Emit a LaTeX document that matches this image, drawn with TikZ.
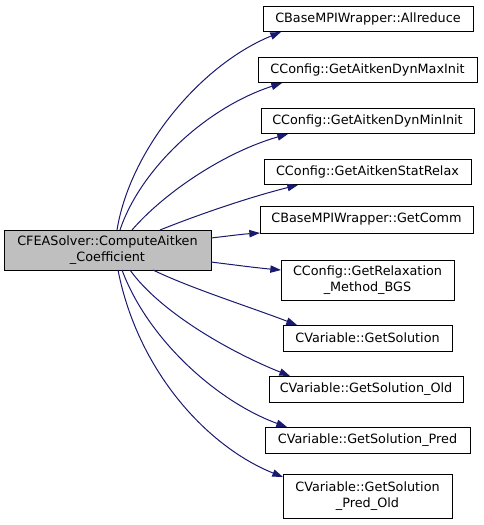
\documentclass[tikz,border=0pt]{standalone}
\usepackage{fontspec}
\setmainfont{DejaVu Sans}
\usetikzlibrary{arrows.meta}
\definecolor{edgeblue}{HTML}{191970}
\definecolor{maingray}{HTML}{BFBFBF}
\begin{document}
\begin{tikzpicture}[x=0.75pt,y=-0.75pt,
  fbox/.style={draw=black,line width=0.75pt,fill=white,inner sep=0pt,align=center,font=\fontsize{9.6pt}{11.6pt}\selectfont},
  edge/.style={draw=edgeblue,line width=0.75pt,-{Triangle[length=8pt,width=5.5pt]}}]
\useasboundingbox (0,0) rectangle (483,525);
\node[fbox,fill=maingray,minimum width=155.25pt,minimum height=30pt] (m) at (107.5,250) {CFEASolver::ComputeAitken\\\_Coefficient};
\node[fbox,minimum width=157.5pt,minimum height=18.75pt] (a) at (368,18.5) {CBaseMPIWrapper::Allreduce};
\node[fbox,minimum width=164.25pt,minimum height=18.75pt] (b) at (367.5,69.5) {CConfig::GetAitkenDynMaxInit};
\node[fbox,minimum width=159.75pt,minimum height=18.75pt] (c) at (367.5,120.5) {CConfig::GetAitkenDynMinInit};
\node[fbox,minimum width=155.25pt,minimum height=18.75pt] (d) at (367.5,171.5) {CConfig::GetAitkenStatRelax};
\node[fbox,minimum width=159.75pt,minimum height=20.25pt] (e) at (366.5,219.5) {CBaseMPIWrapper::GetComm};
\node[fbox,minimum width=129.75pt,minimum height=30pt] (f) at (367.5,280) {CConfig::GetRelaxation\\\_Method\_BGS};
\node[fbox,minimum width=126.75pt,minimum height=19.5pt] (g) at (367.5,338) {CVariable::GetSolution};
\node[fbox,minimum width=145.5pt,minimum height=19.5pt] (h) at (366,389) {CVariable::GetSolution\_Old};
\node[fbox,minimum width=153.75pt,minimum height=19.5pt] (i) at (367.5,440) {CVariable::GetSolution\_Pred};
\node[fbox,minimum width=126.75pt,minimum height=33pt] (j) at (367.5,496) {CVariable::GetSolution\\\_Pred\_Old};
\coordinate (sa) at (117,230); \coordinate (ta) at (281,32);
\coordinate (sb) at (120,230); \coordinate (tb) at (282,83);
\coordinate (sc) at (132,230); \coordinate (tc) at (288,134);
\coordinate (sd) at (160,230); \coordinate (td) at (298,185);
\coordinate (se) at (211,238); \coordinate (te) at (260,233);
\coordinate (sf) at (211,262); \coordinate (tf) at (281,270);
\coordinate (sg) at (153,270); \coordinate (tg) at (297,325);
\coordinate (sh) at (130,270); \coordinate (th) at (290,376);
\coordinate (si) at (122,270); \coordinate (ti) at (287,427);
\coordinate (sj) at (118,270); \coordinate (tj) at (283,477);
\draw[edge] (sa) .. controls (130,150) and (200,65) .. (ta);
\draw[edge] (sb) .. controls (140,170) and (205,108) .. (tb);
\draw[edge] (sc) .. controls (165,192) and (225,152) .. (tc);
\draw[edge] (sd) .. controls (200,214) and (250,197) .. (td);
\draw[edge] (se) .. controls (228,236) and (244,234) .. (te);
\draw[edge] (sf) .. controls (235,265) and (258,268) .. (tf);
\draw[edge] (sg) .. controls (190,288) and (250,307) .. (tg);
\draw[edge] (sh) .. controls (160,312) and (230,352) .. (th);
\draw[edge] (si) .. controls (148,340) and (218,402) .. (ti);
\draw[edge] (sj) .. controls (138,372) and (208,447) .. (tj);
\end{tikzpicture}
\end{document}
